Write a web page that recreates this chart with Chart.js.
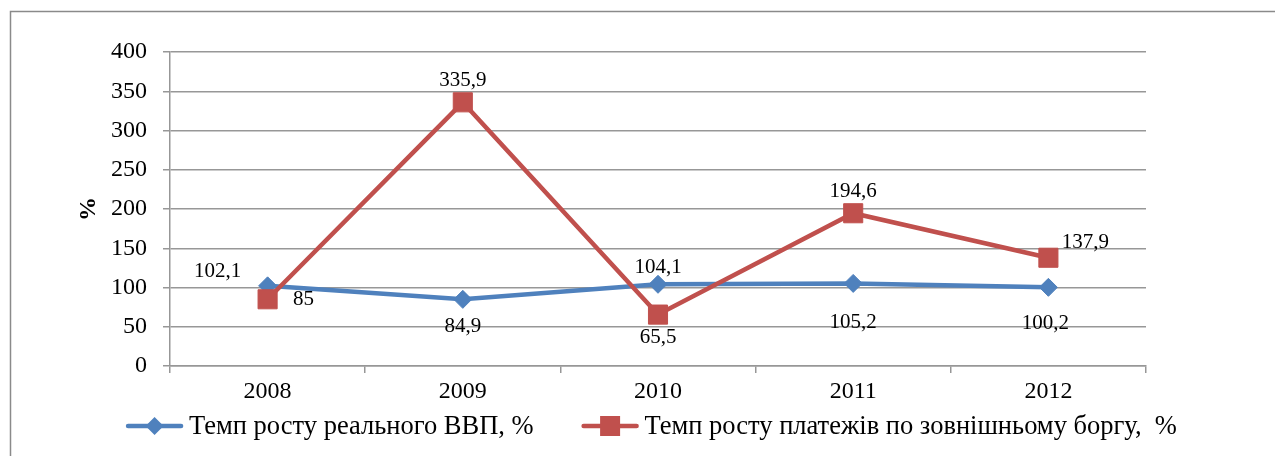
<!DOCTYPE html>
<html>
<head>
<meta charset="utf-8">
<script src="https://cdn.jsdelivr.net/npm/chart.js@4.4.1/dist/chart.umd.min.js"></script>
<style>
  html, body { margin: 0; padding: 0; background: #ffffff; }
  #wrap { width: 1275px; height: 456px; position: relative; }
</style>
</head>
<body>
<div id="wrap"><canvas id="c" width="1275" height="456"></canvas></div>
<script>
// ---- data ----
const years = ['2008', '2009', '2010', '2011', '2012'];
const gdpGrowth = [102.1, 84.9, 104.1, 105.2, 100.2];
const debtPaymentsGrowth = [85, 335.9, 65.5, 194.6, 137.9];
const seriesNames = ['Темп росту реального ВВП, %', 'Темп росту платежів по зовнішньому боргу,  %'];
const yTicks = [0, 50, 100, 150, 200, 250, 300, 350, 400];
const yTitle = '%';

// ---- styles ----
const BLUE = '#4F81BD';
const RED = '#C0504D';
const SERIF = '"Liberation Serif", "Times New Roman", serif';
const GRID = '#979797';

// label offsets (dx, dy) relative to each point, per dataset
const labelOffsets = [
  [[-50, -14], [0, 27], [0, -17], [0, 39], [-3, 36]],
  [[36, 0], [0, -22], [0, 23], [0, -22], [37, -15]]
];

const framePlugin = {
  id: 'frame',
  beforeDraw(chart) {
    const ctx = chart.ctx;
    ctx.save();
    ctx.fillStyle = '#ffffff';
    ctx.fillRect(0, 0, chart.width, chart.height);
    ctx.strokeStyle = '#8a8a8a';
    ctx.lineWidth = 1.5;
    ctx.strokeRect(10.5, 11.5, chart.width + 50, chart.height + 50);
    ctx.restore();
  }
};

const labelsPlugin = {
  id: 'valueLabels',
  afterDatasetsDraw(chart) {
    const ctx = chart.ctx;
    ctx.save();
    ctx.font = '21px ' + SERIF;
    ctx.fillStyle = '#000000';
    ctx.textAlign = 'center';
    ctx.textBaseline = 'middle';
    chart.data.datasets.forEach((ds, di) => {
      const meta = chart.getDatasetMeta(di);
      meta.data.forEach((pt, i) => {
        const v = ds.data[i];
        const txt = String(v).replace('.', ',');
        const off = labelOffsets[di][i];
        ctx.fillText(txt, pt.x + off[0], pt.y + off[1]);
      });
    });
    ctx.restore();
  }
};

const legendPlugin = {
  id: 'customLegend',
  afterDraw(chart) {
    const ctx = chart.ctx;
    ctx.save();
    ctx.font = '26.5px ' + SERIF;
    const symW = 57, textGap = 6, itemGap = 48;
    const ds = chart.data.datasets;
    const widths = ds.map(d => ctx.measureText(d.label).width);
    let total = 0;
    widths.forEach((w, i) => { total += symW + textGap + w + (i < widths.length - 1 ? itemGap : 0); });
    let x = 651.5 - total / 2;
    const y = 426;
    ds.forEach((d, i) => {
      ctx.strokeStyle = d.borderColor;
      ctx.lineWidth = 4.5;
      ctx.lineCap = 'round';
      ctx.beginPath();
      ctx.moveTo(x + 2, y);
      ctx.lineTo(x + symW - 2, y);
      ctx.stroke();
      const cx = x + symW / 2;
      ctx.fillStyle = d.pointBackgroundColor;
      ctx.beginPath();
      if (d.pointStyle === 'rectRot') {
        const r = 9;
        ctx.moveTo(cx, y - r); ctx.lineTo(cx + r, y); ctx.lineTo(cx, y + r); ctx.lineTo(cx - r, y); ctx.closePath();
      } else {
        const s = 10;
        ctx.rect(cx - s, y - s, 2 * s, 2 * s);
      }
      ctx.fill();
      ctx.fillStyle = '#000000';
      ctx.textAlign = 'left';
      ctx.textBaseline = 'middle';
      ctx.fillText(d.label, x + symW + textGap, y + 1);
      x += symW + textGap + widths[i] + itemGap;
    });
    ctx.restore();
  }
};

new Chart(document.getElementById('c'), {
  type: 'line',
  data: {
    labels: years,
    datasets: [
      {
        label: seriesNames[0],
        data: gdpGrowth,
        borderColor: BLUE,
        backgroundColor: BLUE,
        pointBackgroundColor: BLUE,
        pointBorderColor: BLUE,
        borderWidth: 4.5,
        pointStyle: 'rectRot',
        pointRadius: 9,
        pointBorderWidth: 1,
        tension: 0,
        order: 1
      },
      {
        label: seriesNames[1],
        data: debtPaymentsGrowth,
        borderColor: RED,
        backgroundColor: RED,
        pointBackgroundColor: RED,
        pointBorderColor: RED,
        borderWidth: 4.5,
        pointStyle: 'rect',
        pointRadius: 13.5,
        pointBorderWidth: 1,
        tension: 0,
        order: 0
      }
    ]
  },
  options: {
    responsive: false,
    animation: false,
    devicePixelRatio: 1,
    layout: { padding: { left: 0, right: 129, top: 52, bottom: 0 } },
    plugins: {
      legend: { display: false },
      tooltip: { enabled: false },
      title: { display: false }
    },
    scales: {
      x: {
        type: 'category',
        offset: true,
        grid: {
          offset: true,
          drawOnChartArea: false,
          drawTicks: true,
          tickLength: 7,
          color: GRID,
          lineWidth: 1.5
        },
        border: { display: true, color: GRID, width: 1.5 },
        ticks: {
          color: '#000000',
          font: { family: SERIF, size: 24 },
          padding: 4,
          maxRotation: 0
        },
        afterFit(scale) { scale.height = 90; }
      },
      y: {
        min: 0,
        max: 400,
        afterBuildTicks(scale) { scale.ticks = yTicks.map(v => ({ value: v })); },
        grid: {
          color: GRID,
          lineWidth: 1.5,
          drawTicks: true,
          tickLength: 7
        },
        border: { display: true, color: GRID, width: 1.5 },
        ticks: {
          color: '#000000',
          font: { family: SERIF, size: 24 },
          padding: 16
        },
        title: {
          display: true,
          text: yTitle,
          color: '#000000',
          font: { family: SERIF, size: 24, weight: 'bold' },
          padding: { top: 74, bottom: 0 }
        },
        afterFit(scale) { scale.width = 170; }
      }
    }
  },
  plugins: [framePlugin, labelsPlugin, legendPlugin]
});
</script>
</body>
</html>
